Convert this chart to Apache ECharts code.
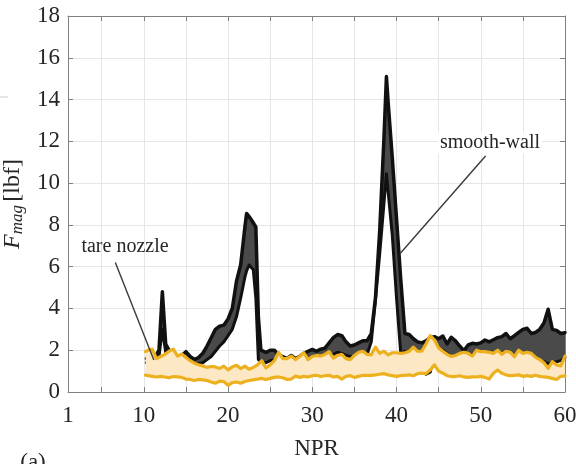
<!DOCTYPE html>
<html>
<head>
<meta charset="utf-8">
<script src="https://cdn.jsdelivr.net/npm/echarts@6/dist/echarts.min.js"></script>
<style>
  html, body { margin: 0; padding: 0; background: #fff; }
  #chart { width: 576px; height: 464px; }
</style>
</head>
<body>
<div id="chart"></div>
<script>
// smooth-wall band (black)
const NPR_SW = [10.3, 10.5, 11, 11.5, 11.8, 12.2, 12.6, 13, 13.5, 14,
  14.5, 15, 15.5, 16, 16.5, 17, 17.5, 18, 18.5, 19,
  19.5, 20, 20.5, 21, 21.5, 22, 22.2, 22.5, 23, 23.3,
  23.6, 23.9, 24.5, 25, 25.5, 26, 26.5, 27, 27.5, 28,
  28.5, 29, 29.5, 30, 30.5, 31, 31.5, 32, 32.5, 33,
  33.5, 34, 34.5, 35, 35.5, 36, 36.5, 37, 37.5, 38,
  38.5, 38.8, 39, 39.5, 40, 40.5, 41, 41.5, 42, 42.5,
  43, 43.5, 44, 44.5, 45, 45.5, 46, 46.5, 47, 47.5,
  48, 48.5, 49, 49.5, 50, 50.5, 51, 51.5, 52, 52.5,
  53, 53.5, 54, 54.5, 55, 55.5, 56, 56.5, 57, 57.5,
  58, 58.5, 59, 59.5, 60];
const SW_UPPER = [1.6, 1.7, 1.7, 1.8, 2.0, 4.8, 2.3, 2.0, 1.9, 1.7,
  1.75, 1.93, 1.7, 1.56, 1.65, 1.85, 2.2, 2.6, 3.0, 3.15,
  3.2, 3.5, 4.0, 5.3, 6.1, 7.9, 8.55, 8.4, 8.1, 7.9,
  3.6, 2.0, 1.9, 2.0, 2.0, 1.8, 1.69, 1.6, 1.75, 1.6,
  1.7, 1.85, 1.95, 2.04, 1.95, 2.05, 2.1, 2.35, 2.6, 2.75,
  2.7, 2.4, 2.2, 2.25, 2.35, 2.45, 2.45, 2.8, 4.5, 7.7,
  12.1, 15.1, 13.9, 11.2, 8.3, 5.4, 2.8, 2.75, 2.55, 2.4,
  2.35, 2.45, 2.6, 2.65, 2.55, 2.68, 2.3, 2.62, 2.45, 2.2,
  1.98, 2.25, 2.33, 2.3, 2.35, 2.49, 2.4, 2.5, 2.6, 2.65,
  2.8, 2.55, 2.7, 2.85, 3.0, 3.05, 2.8, 2.85, 3.0, 3.3,
  3.96, 3.0, 2.95, 2.8, 2.84];
const SW_LOWER = [1.4, 1.5, 1.5, 1.6, 1.7, 3.0, 1.9, 1.7, 1.6, 1.5,
  1.5, 1.6, 1.45, 1.38, 1.36, 1.4, 1.55, 1.7, 1.95, 2.2,
  2.4, 2.7, 3.0, 3.6, 4.5, 5.5, 5.8, 6.08, 5.85, 4.5,
  1.55, 1.45, 1.4, 1.5, 1.55, 1.5, 1.45, 1.4, 1.45, 1.4,
  1.45, 1.5, 1.6, 1.65, 1.6, 1.7, 1.75, 1.75, 1.8, 1.9,
  1.85, 1.75, 1.7, 1.7, 1.75, 1.8, 1.8, 2.4, 4.4, 6.6,
  9.0, 10.45, 9.6, 7.5, 4.5, 1.85, 1.95, 1.9, 1.85, 1.8,
  1.5, 0.85, 0.95, 1.9, 2.0, 2.0, 1.85, 1.7, 1.7, 1.75,
  1.7, 1.75, 1.8, 1.8, 1.85, 1.85, 1.8, 1.85, 1.9, 1.85,
  1.9, 1.8, 1.75, 1.75, 1.8, 1.7, 1.6, 1.55, 1.5, 1.45,
  1.35, 1.4, 1.45, 1.5, 1.65];

// tare nozzle band (orange)
const NPR_TN = [10.2, 10.5, 11, 11.5, 12, 12.5, 13, 13.5, 14, 14.5,
  15, 15.5, 16, 16.5, 17, 17.5, 18, 18.5, 19, 19.5,
  20, 20.5, 21, 21.5, 22, 22.5, 23, 23.5, 24, 24.5,
  25, 25.5, 26, 26.5, 27, 27.5, 28, 28.5, 29, 29.5,
  30, 30.5, 31, 31.5, 32, 32.5, 33, 33.5, 34, 34.5,
  35, 35.5, 36, 36.5, 37, 37.5, 38, 38.5, 39, 39.5,
  40, 40.5, 41, 41.5, 42, 42.5, 43, 43.5, 44, 44.5,
  45, 45.5, 46, 46.5, 47, 47.5, 48, 48.5, 49, 49.5,
  50, 50.5, 51, 51.5, 52, 52.5, 53, 53.5, 54, 54.5,
  55, 55.5, 56, 56.5, 57, 57.5, 58, 58.5, 59, 59.5,
  60];
const TN_UPPER = [1.93, 2.0, 2.05, 1.6, 1.7, 1.8, 1.95, 2.05, 1.72, 1.82,
  1.65, 1.5, 1.38, 1.3, 1.25, 1.18, 1.22, 1.2, 1.13, 1.24,
  1.06, 1.2, 1.28, 1.12, 1.24, 1.09, 1.18, 1.3, 1.5, 1.15,
  1.3, 1.5, 1.9, 1.6, 1.6, 1.72, 1.55, 1.7, 1.88, 1.55,
  1.7, 1.75, 1.72, 1.8, 1.93, 1.62, 1.75, 1.8, 1.6, 1.55,
  1.75, 1.9, 1.95, 1.8, 1.78, 2.15, 1.85, 1.95, 1.78, 1.88,
  1.88, 1.85, 1.88, 1.95, 2.15, 1.95, 1.95, 2.3, 2.7, 2.5,
  2.1, 1.95, 1.8, 1.7, 1.75, 1.85, 1.9, 1.85, 1.72, 2.0,
  1.93, 1.93, 1.9, 1.85, 2.0, 1.8, 1.95, 1.9, 1.69, 2.0,
  1.85, 1.9, 1.85, 1.66, 1.55, 1.4, 1.13, 1.45, 1.3, 1.25,
  1.72];
const TN_LOWER = [0.81, 0.78, 0.75, 0.72, 0.75, 0.72, 0.68, 0.74, 0.72, 0.7,
  0.62, 0.6, 0.55, 0.6, 0.58, 0.55, 0.48, 0.42, 0.52, 0.5,
  0.32, 0.45, 0.48, 0.42, 0.5, 0.55, 0.58, 0.62, 0.65, 0.6,
  0.65, 0.7, 0.72, 0.68, 0.6, 0.62, 0.76, 0.7, 0.75, 0.72,
  0.78, 0.8, 0.74, 0.78, 0.8, 0.72, 0.75, 0.62, 0.75, 0.78,
  0.7, 0.75, 0.8, 0.8, 0.8, 0.82, 0.85, 0.88, 0.82, 0.78,
  0.75, 0.78, 0.8, 0.82, 0.78, 0.88, 0.9, 0.88, 1.05, 1.3,
  1.0, 0.9, 0.78, 0.74, 0.74, 0.78, 0.72, 0.7, 0.72, 0.72,
  0.75, 0.7, 0.62, 0.9, 1.05, 0.9, 0.82, 0.78, 0.8, 0.82,
  0.75, 0.78, 0.75, 0.8, 0.75, 0.72, 0.7, 0.65, 0.6, 0.75,
  0.77];

const X_LABELS = [1, 10, 20, 30, 40, 50, 60];
const X_TICKS = [5, 10, 15, 20, 25, 30, 35, 40, 45, 50, 55];

const FONT = '"Liberation Serif", "Times New Roman", serif';
const BLACK = '#111111';
const ORANGE = '#EDB120';

// rows are [value, NPR] so the stack works on the value column (stack is by index)
function rows(xs, ys) {
  return xs.map((x, i) => [ys[i], x]);
}
function diffRows(xs, hi, lo) {
  return xs.map((x, i) => [+(hi[i] - lo[i]).toFixed(3), x]);
}

const baseLine = {
  type: 'line', symbol: 'none', silent: true, animation: false,
  encode: { x: 1, y: 0 }
};

const option = {
  animation: false,
  grid: { left: 68, right: 11, top: 16, bottom: 72, outerBoundsMode: 'none' },
  xAxis: [
    {
      type: 'value', min: 1, max: 60,
      axisLine: { onZero: false, lineStyle: { color: '#808080', width: 1 } },
      axisTick: { inside: true, length: 5, customValues: X_TICKS, lineStyle: { color: '#808080' } },
      axisLabel: { customValues: X_LABELS, fontFamily: FONT, fontSize: 23, color: '#262626', margin: 12 },
      splitLine: { show: true, lineStyle: { color: '#e6e6e6', width: 1 } },
      name: 'NPR', nameLocation: 'middle', nameGap: 45,
      nameTextStyle: { fontFamily: FONT, fontSize: 23, color: '#262626' }
    },
    {
      type: 'value', min: 1, max: 60, position: 'top',
      axisLine: { show: true, onZero: false, lineStyle: { color: '#808080', width: 1 } },
      axisTick: { show: true, inside: true, length: 5, customValues: X_TICKS, lineStyle: { color: '#808080' } },
      axisLabel: { show: false },
      splitLine: { show: false }
    }
  ],
  yAxis: [
    {
      type: 'value', min: 0, max: 18, interval: 2,
      axisLine: { show: true, onZero: false, lineStyle: { color: '#808080', width: 1 } },
      axisTick: { show: true, inside: true, length: 5, lineStyle: { color: '#808080' } },
      axisLabel: { fontFamily: FONT, fontSize: 23, color: '#262626', margin: 8 },
      splitLine: { show: true, lineStyle: { color: '#e6e6e6', width: 1 } },
      name: '{i|F}{s|mag} {r|[lbf]}',
      nameLocation: 'middle', nameRotate: 90, nameGap: 32,
      nameTextStyle: {
        color: '#262626',
        rich: {
          i: { fontFamily: FONT, fontSize: 24, fontStyle: 'italic', color: '#262626', lineHeight: 27, verticalAlign: 'middle' },
          s: { fontFamily: FONT, fontSize: 17, fontStyle: 'italic', color: '#262626', lineHeight: 15, verticalAlign: 'bottom' },
          r: { fontFamily: FONT, fontSize: 24, color: '#262626', lineHeight: 27, verticalAlign: 'middle' }
        }
      }
    },
    {
      type: 'value', min: 0, max: 18, interval: 2, position: 'right',
      axisLine: { show: true, onZero: false, lineStyle: { color: '#808080', width: 1 } },
      axisTick: { show: true, inside: true, length: 5, lineStyle: { color: '#808080' } },
      axisLabel: { show: false },
      splitLine: { show: false }
    }
  ],
  series: [
    // smooth-wall band
    Object.assign({}, baseLine, {
      name: 'sw-base', stack: 'sw', z: 2,
      data: rows(NPR_SW, SW_LOWER),
      lineStyle: { width: 0, opacity: 0 }
    }),
    Object.assign({}, baseLine, {
      name: 'sw-band', stack: 'sw', z: 2,
      data: diffRows(NPR_SW, SW_UPPER, SW_LOWER),
      lineStyle: { color: BLACK, width: 3.5, join: 'round', cap: 'round' },
      areaStyle: { color: '#4a4a4a', opacity: 1 }
    }),
    Object.assign({}, baseLine, {
      name: 'sw-lower', z: 2,
      data: rows(NPR_SW, SW_LOWER),
      lineStyle: { color: BLACK, width: 3, join: 'round', cap: 'round' }
    }),
    // tare nozzle band
    Object.assign({}, baseLine, {
      name: 'tn-base', stack: 'tn', z: 3,
      data: rows(NPR_TN, TN_LOWER),
      lineStyle: { width: 0, opacity: 0 }
    }),
    Object.assign({}, baseLine, {
      name: 'tn-band', stack: 'tn', z: 3,
      data: diffRows(NPR_TN, TN_UPPER, TN_LOWER),
      lineStyle: { color: ORANGE, width: 3.2, join: 'round', cap: 'round' },
      areaStyle: { color: '#FDE8C6', opacity: 1 }
    }),
    Object.assign({}, baseLine, {
      name: 'tn-lower', z: 4,
      data: rows(NPR_TN, TN_LOWER),
      lineStyle: { color: ORANGE, width: 3.2, join: 'round', cap: 'round' },
      markLine: {
        silent: true, animation: false,
        symbol: ['none', 'none'],
        label: { show: false },
        lineStyle: { color: '#3a3a3a', width: 1.4, type: 'solid' },
        data: [
          [{ coord: [6.62, 6.2] }, { coord: [11.19, 1.53] }],
          [{ coord: [50.57, 11.3] }, { coord: [40.43, 6.63] }]
        ]
      }
    })
  ],
  graphic: [
    { type: 'text', x: 125, y: 247, silent: true, z: 100,
      style: { text: 'tare nozzle', font: '20px ' + FONT, fill: '#262626', align: 'center', verticalAlign: 'middle' } },
    { type: 'text', x: 490, y: 143, silent: true, z: 100,
      style: { text: 'smooth-wall', font: '20px ' + FONT, fill: '#262626', align: 'center', verticalAlign: 'middle',
        backgroundColor: '#ffffff', padding: [1, 2, 0, 2] } },
    { type: 'text', x: 33, y: 463, silent: true,
      style: { text: '(a)', font: '23px ' + FONT, fill: '#262626', align: 'center', verticalAlign: 'middle' } },
    { type: 'line', silent: true,
      shape: { x1: 0, y1: 97, x2: 8, y2: 97 },
      style: { stroke: '#cccccc', lineWidth: 1 } }
  ]
};

const myChart = echarts.init(document.getElementById('chart'), null, { renderer: 'canvas' });
myChart.setOption(option);
</script>
</body>
</html>
